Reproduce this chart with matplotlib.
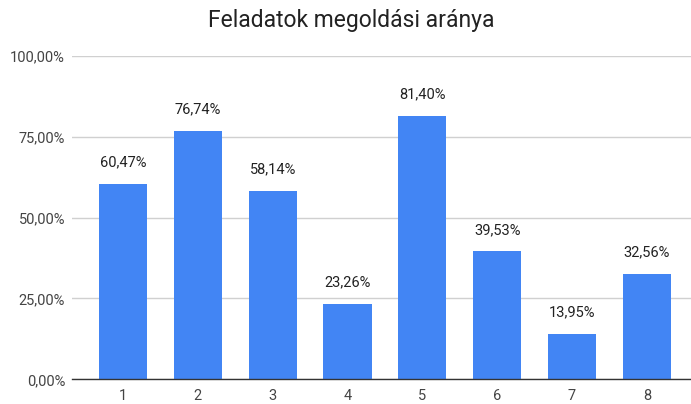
import matplotlib.pyplot as plt
from matplotlib.ticker import FuncFormatter

plt.rcParams['font.family'] = ['Roboto', 'DejaVu Sans']

feladatok = ['1', '2', '3', '4', '5', '6', '7', '8']
arany = [60.47, 76.74, 58.14, 23.26, 81.40, 39.53, 13.95, 32.56]
y_ticks = [0, 25, 50, 75, 100]

fig = plt.figure(figsize=(6.91, 4.04), dpi=100)
ax = fig.add_axes([72 / 691, 1 - 379.3 / 404, (691 - 72) / 691, (379.3 - 56) / 404])

x = range(len(feladatok))
bars = ax.bar(x, arany, width=0.645, color='#4285f4', zorder=3)

for b, v in zip(bars, arany):
    ax.annotate(f'{v:.2f}%'.replace('.', ','),
                (b.get_x() + b.get_width() / 2, v),
                xytext=(0, 10.5), textcoords='offset points',
                ha='center', va='bottom', fontsize=10.5, color='#222222')

ax.set_xlim(-0.682, 7.59)
ax.set_ylim(0, 100)
ax.set_xticks(list(x))
ax.set_xticklabels(feladatok)
ax.set_yticks(y_ticks)
ax.yaxis.set_major_formatter(FuncFormatter(lambda v, p: f'{v:.2f}%'.replace('.', ',')))

ax.grid(axis='y', color='#d0d0d0', linewidth=1, zorder=0)
for s in ['top', 'right', 'left']:
    ax.spines[s].set_visible(False)
ax.spines['bottom'].set_color('#333333')
ax.spines['bottom'].set_linewidth(1)
ax.spines['bottom'].set_zorder(4)

ax.tick_params(axis='both', length=0, labelsize=10.5, labelcolor='#444444')
ax.tick_params(axis='y', pad=5)
ax.tick_params(axis='x', pad=7)

fig.text(351 / 691, 1 - 20.5 / 404, 'Feladatok megoldási aránya',
         ha='center', va='center', fontsize=16.5, color='#222222')

plt.savefig('out.png', dpi=100)
